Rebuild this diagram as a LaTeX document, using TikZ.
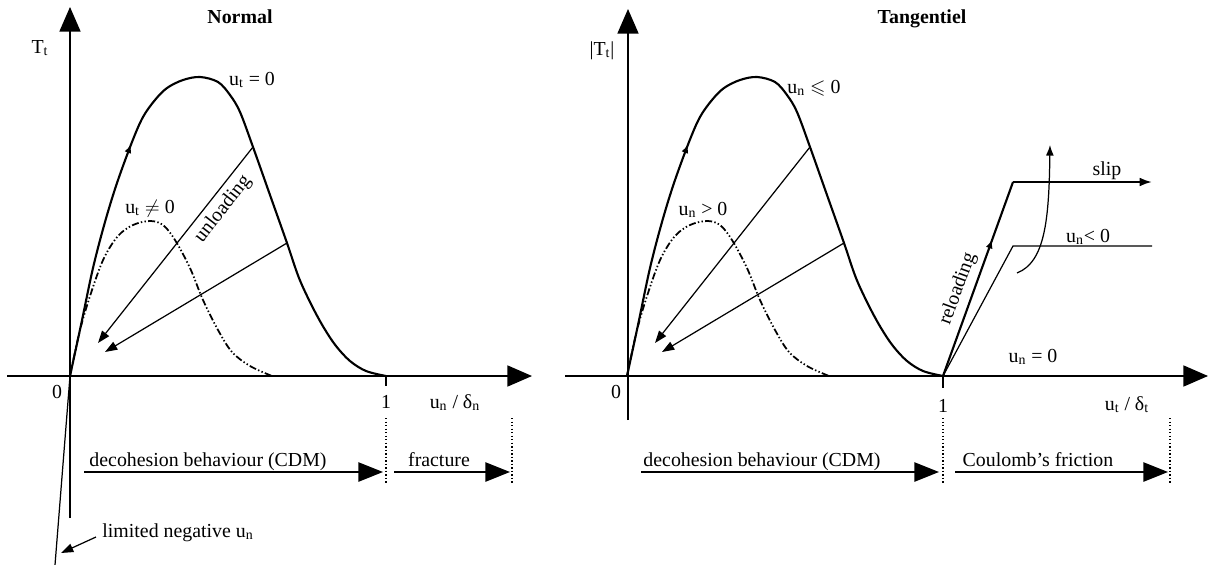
\documentclass[tikz,border=0pt]{standalone}
\usepackage{fontspec}
\setmainfont{Liberation Serif}
\usepackage{amssymb}
\usetikzlibrary{arrows.meta,decorations.markings}
\tikzset{
  % axes
  AX/.style={line width=0.75pt,-{Triangle[length=14pt,width=12pt]}},
  % traction curves
  CV/.style={line width=1.2pt,smooth,tension=0.55},
  DD/.style={line width=1pt,smooth,tension=0.55,
             dash pattern=on 4pt off 1.3pt on 0.8pt off 1.3pt on 0.8pt off 1.3pt},
  % thin lines and arrows
  TL/.style={line width=0.7pt},
  UL/.style={TL,-{Triangle[length=7pt,width=5pt]}},
  BA/.style={line width=0.75pt,-{Triangle[length=14pt,width=11pt]}},
  DT/.style={line width=0.6pt,dash pattern=on 0.8pt off 1.2pt},
  MA/.style={postaction={decorate},decoration={markings,
             mark=at position #1 with {\arrow{Latex[length=5pt,width=4pt]}}}},
  % labels
  TX/.style={font=\fontsize{11.3}{13}\selectfont,inner sep=0pt,anchor=base},
  TB/.style={TX,font=\fontsize{11.3}{13}\selectfont\bfseries}
}

\begin{document}
\begin{tikzpicture}[x=0.02cm,y=-0.02cm]
  \useasboundingbox (0,0) rectangle (1218,565);

  % same loading/unloading curves in both panels
  \foreach \s/\p in {0/L,557/R}{
    \begin{scope}[shift={(\s,0)}]
      \coordinate (O\p) at (70,376);
      \coordinate (A\p) at (253,147);
      \coordinate (B\p) at (287,243);
      \draw[CV,MA=4.8cm] plot coordinates {(70,376) (81,325) (93,268) (105,222) (117,183)
        (132,142) (143,117) (155,100) (167,88) (183,80) (200,77) (218,82) (230,95)
        (240,112) (253,147) (270,195) (287,243) (299,278) (312,306) (324,328)
        (336,346) (350,361) (366,371) (386,376)};
      \draw[DD] plot coordinates {(70,376) (80,330) (92,290) (104,258) (118,236)
        (133,225) (150,221) (163,225) (175,240) (190,268) (203,300) (218,330)
        (232,352) (250,366) (272,376)};
      \draw[UL] (A\p) -- (98,343);
      \draw[UL] (B\p) -- (105,352);
    \end{scope}
  }

  % left panel: normal
  \draw[AX] (7,376) -- (532,376);
  \draw[AX] (70,518) -- (70,7);
  \draw[TL] (OL) -- (55,565);
  \draw[line width=1.2pt] (386,376) -- (494,376);
  \draw[TL] (386,376) -- (386,386);
  \draw[DT] (386,418) -- (386,484);
  \draw[DT] (512,418) -- (512,484);
  \draw[BA] (84,472) -- (383,472);
  \draw[BA] (394,472) -- (510,472);
  \draw[UL] (96,537) -- (61,553);

  \node[TB] (tN) at (240,23) {Normal};
  \node[TX] (yN) at (40,53) {T\textsubscript{t}};
  \node[TX] (c0N) at (252,85) {u\textsubscript{t} = 0};
  \node[TX] (c1N) at (150,213) {u\textsubscript{t} $\neq$ 0};
  \node[TX,anchor=center,rotate=52] (uN) at (223,209) {unloading};
  \node[TX] (zN) at (57,398) {0};
  \node[TX] (oN) at (386,408) {1};
  \node[TX] (xN) at (455,408) {u\textsubscript{n} / δ\textsubscript{n}};
  \node[TX] (dN) at (208,466) {decohesion behaviour (CDM)};
  \node[TX] (fN) at (439,466) {fracture};
  \node[TX] (nN) at (178,537) {limited negative u\textsubscript{n}};

  % right panel: tangential
  \draw[AX] (565,376) -- (1208,376);
  \draw[AX] (628,420) -- (628,9);
  \draw[line width=1.2pt] (943,376) -- (1153,376);
  \draw[TL] (943,376) -- (943,388);
  \draw[DT] (943,418) -- (943,484);
  \draw[DT] (1170,418) -- (1170,484);
  \draw[BA] (641,472) -- (939,472);
  \draw[BA] (955,472) -- (1168,472);
  \coordinate (S0) at (943,376);
  \coordinate (S1) at (1013,182);
  \coordinate (S2) at (1013,246);
  \draw[line width=1.2pt,MA=2.9cm] (S0) -- (S1);
  \draw[line width=1.2pt,-{Latex[length=7pt,width=5pt]}] (S1) -- (1152,182);
  \draw[TL] (S0) -- (S2) -- (1152,246);
  \draw[TL,-{Latex[length=6pt,width=4.5pt]}] (1017,273) .. controls (1045,262) and (1049,220) .. (1050,145);

  \node[TB] (tT) at (922,23) {Tangentiel};
  \node[TX] (yT) at (602,55) {|T\textsubscript{t}|};
  \node[TX] (c0T) at (814,93) {u\textsubscript{n} $\leqslant$ 0};
  \node[TX] (c1T) at (703,215) {u\textsubscript{n} > 0};
  \node[TX] (zT) at (616,398) {0};
  \node[TX] (oT) at (943,412) {1};
  \node[TX] (xT) at (1127,410) {u\textsubscript{t} / δ\textsubscript{t}};
  \node[TX] (sT) at (1107,175) {slip};
  \node[TX] (nT) at (1088,242) {u\textsubscript{n}< 0};
  \node[TX] (eT) at (1033,362) {u\textsubscript{n} = 0};
  \node[TX,anchor=center,rotate=70] (rT) at (958,289) {reloading};
  \node[TX] (dT) at (762,466) {decohesion behaviour (CDM)};
  \node[TX] (fT) at (1038,466) {Coulomb's friction};
\end{tikzpicture}
\end{document}
